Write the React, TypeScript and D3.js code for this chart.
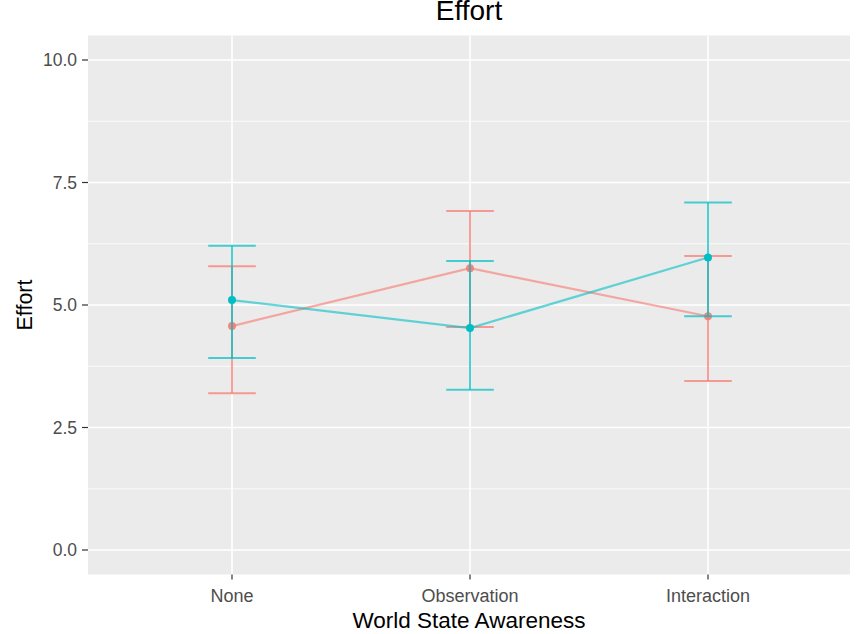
import React from "react";
import * as d3 from "d3";

const categories = ["None", "Observation", "Interaction"];
const seriesNames = ["A", "B"];
const colors = ["#F8766D", "#00BFC4"];
const meansA = [4.57, 5.75, 4.77];
const lowA = [3.2, 4.55, 3.45];
const highA = [5.79, 6.92, 6.0];
const meansB = [5.1, 4.53, 5.97];
const lowB = [3.92, 3.27, 4.77];
const highB = [6.21, 5.9, 7.09];
const yTicks = [0, 2.5, 5, 7.5, 10];
const yMinor = [1.25, 3.75, 6.25, 8.75];

const W = 859, H = 634;
const panel = { left: 88, right: 850, top: 35.5, bottom: 574.5 };

export default function App() {
  const x = d3.scalePoint<string>().domain(categories).range([232, 708]);
  const step = x.step();
  const y = d3.scaleLinear().domain([-0.5, 10.5]).range([panel.bottom, panel.top]);
  const series = [
    { name: seriesNames[0], color: colors[0], m: meansA, lo: lowA, hi: highA, pOp: 0.85 },
    { name: seriesNames[1], color: colors[1], m: meansB, lo: lowB, hi: highB, pOp: 1 },
  ];
  const line = d3.line<number>().x((_, i) => x(categories[i])!).y((d) => y(d));
  const capHalf = step * 0.1;
  return (
    <svg width={W} height={H} style={{ position: "absolute", left: 0, top: 0, background: "#fff" }}
      fontFamily="'Liberation Sans', Arial, sans-serif">
      <rect x={panel.left} y={panel.top} width={panel.right - panel.left} height={panel.bottom - panel.top} fill="#EBEBEB" />
      {yMinor.map((v) => (
        <line key={"mn" + v} x1={panel.left} x2={panel.right} y1={y(v)} y2={y(v)} stroke="#fff" strokeWidth={0.8} />
      ))}
      {yTicks.map((v) => (
        <line key={"mj" + v} x1={panel.left} x2={panel.right} y1={y(v)} y2={y(v)} stroke="#fff" strokeWidth={1.6} />
      ))}
      {categories.map((c) => (
        <line key={"vx" + c} x1={x(c)} x2={x(c)} y1={panel.top} y2={panel.bottom} stroke="#fff" strokeWidth={1.6} />
      ))}
      {series.map((s) => (
        <g key={s.name}>
          {categories.map((c, i) => (
            <g key={c} stroke={s.color} strokeWidth={2} strokeOpacity={0.7} fill="none">
              <line x1={x(c)} x2={x(c)} y1={y(s.lo[i])} y2={y(s.hi[i])} />
              <line x1={x(c)! - capHalf} x2={x(c)! + capHalf} y1={y(s.lo[i])} y2={y(s.lo[i])} />
              <line x1={x(c)! - capHalf} x2={x(c)! + capHalf} y1={y(s.hi[i])} y2={y(s.hi[i])} />
            </g>
          ))}
          <path d={line(s.m)!} stroke={s.color} strokeWidth={2.2} strokeOpacity={0.6} fill="none" />
          {categories.map((c, i) => (
            <circle key={"p" + c} cx={x(c)} cy={y(s.m[i])} r={4} fill={s.color} fillOpacity={s.pOp} />
          ))}
        </g>
      ))}
      {yTicks.map((v) => (
        <g key={"yt" + v}>
          <line x1={panel.left - 6} x2={panel.left} y1={y(v)} y2={y(v)} stroke="#333" strokeWidth={1.2} />
          <text x={panel.left - 11} y={y(v)} dy="0.35em" textAnchor="end" fontSize={17.5} fill="#4D4D4D">
            {d3.format(".1f")(v)}
          </text>
        </g>
      ))}
      {categories.map((c) => (
        <g key={"xt" + c}>
          <line x1={x(c)} x2={x(c)} y1={panel.bottom} y2={panel.bottom + 5} stroke="#333" strokeWidth={1.2} />
          <text x={x(c)} y={602} textAnchor="middle" fontSize={18} fill="#4D4D4D">{c}</text>
        </g>
      ))}
      <text x={(panel.left + panel.right) / 2} y={628} textAnchor="middle" fontSize={22.5} fill="#000">World State Awareness</text>
      <text transform={`translate(32,${y(5)}) rotate(-90)`} textAnchor="middle" fontSize={21.5} fill="#000">Effort</text>
      <text x={(panel.left + panel.right) / 2} y={20} textAnchor="middle" fontSize={28} fill="#000">Effort</text>
    </svg>
  );
}
